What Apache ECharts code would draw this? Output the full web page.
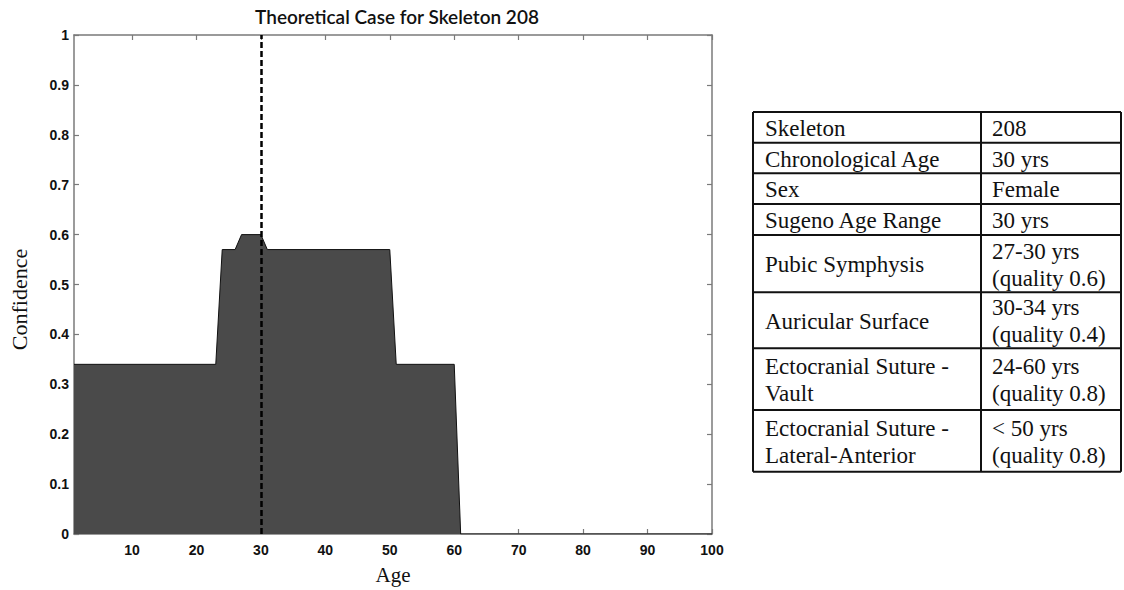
<!DOCTYPE html>
<html>
<head>
<meta charset="utf-8">
<script src="https://cdn.jsdelivr.net/npm/echarts@6/dist/echarts.min.js"></script>
<style>
html,body{margin:0;padding:0;background:#fff;}
#chart{width:1124px;height:590px;}
</style>
</head>
<body>
<div id="chart"></div>
<script>
// ---- data ----
const chartTitle = 'Theoretical Case for Skeleton 208';
const xAxisTitle = 'Age';
const yAxisTitle = 'Confidence';
// breakpoints of the confidence curve (age, confidence)
const ages =       [1,    23,   24,   26,   27,  30,  31,   50,   51,   60,   61, 100];
const confidence = [0.34, 0.34, 0.57, 0.57, 0.6, 0.6, 0.57, 0.57, 0.34, 0.34, 0,  0];
const chronologicalAge = 30;
const xTickValues = [10, 20, 30, 40, 50, 60, 70, 80, 90, 100];
const tableLabels = [
  ['Skeleton'],
  ['Chronological Age'],
  ['Sex'],
  ['Sugeno Age Range'],
  ['Pubic Symphysis'],
  ['Auricular Surface'],
  ['Ectocranial Suture -', 'Vault'],
  ['Ectocranial Suture -', 'Lateral-Anterior']
];
const tableValues = [
  ['208'],
  ['30 yrs'],
  ['Female'],
  ['30 yrs'],
  ['27-30 yrs', '(quality 0.6)'],
  ['30-34 yrs', '(quality 0.4)'],
  ['24-60 yrs', '(quality 0.8)'],
  ['< 50 yrs', '(quality 0.8)']
];

// ---- layout ----
const gridL = 72, gridR = 712, gridT = 35, gridB = 540;
const tableX0 = 753, tableX1 = 981, tableX2 = 1121;
const rowTops = [112, 142.7, 173.3, 204, 235, 292.3, 348.3, 410, 471.7];
const lineH = 27;
const tableFont = '23px "Liberation Serif", "Times New Roman", serif';

const series = ages.map((a, i) => [a, confidence[i]]);

const graphics = [];
// table lines
const lineStyle = {stroke: '#111', lineWidth: 2};
rowTops.forEach(y => {
  graphics.push({type: 'line', shape: {x1: tableX0, y1: y, x2: tableX2, y2: y}, style: lineStyle, silent: true});
});
[tableX0, tableX1, tableX2].forEach(x => {
  graphics.push({type: 'line', shape: {x1: x, y1: rowTops[0], x2: x, y2: rowTops[rowTops.length - 1]}, style: lineStyle, silent: true});
});
function addCell(lines, x, top, bottom) {
  const cy = (top + bottom) / 2 + 1;
  const n = lines.length;
  lines.forEach((t, k) => {
    graphics.push({
      type: 'text', x: x, y: cy + (k - (n - 1) / 2) * lineH, silent: true,
      style: {text: t, font: tableFont, fill: '#111', align: 'left', verticalAlign: 'middle'}
    });
  });
}
tableLabels.forEach((lab, i) => {
  addCell(lab, tableX0 + 12, rowTops[i], rowTops[i + 1]);
  addCell(tableValues[i], tableX1 + 11, rowTops[i], rowTops[i + 1]);
});

const axisLineStyle = {color: '#7a7a7a', width: 1.5};
const tickStyle = {color: '#7a7a7a', width: 1.2};
const labelStyle = {color: '#111', fontFamily: '"Liberation Sans", Arial, sans-serif', fontWeight: 'bold', fontSize: 14};

const chart = echarts.init(document.getElementById('chart'), null, {renderer: 'svg'});
chart.setOption({
  animation: false,
  backgroundColor: '#fff',
  title: {
    text: chartTitle, left: (gridL + gridR) / 2, top: 2, textAlign: 'center',
    textStyle: {fontFamily: 'Lato, "Open Sans", sans-serif', fontWeight: 600, fontSize: 19, color: '#111'}
  },
  grid: {left: gridL, right: 1124 - gridR, top: gridT, bottom: 590 - gridB, containLabel: false},
  xAxis: [{
    type: 'value', min: 1, max: 100, position: 'bottom',
    name: xAxisTitle, nameLocation: 'middle', nameGap: 30,
    nameTextStyle: {fontFamily: '"Liberation Serif", "Times New Roman", serif', fontSize: 21, color: '#111'},
    axisLine: {show: true, onZero: false, lineStyle: axisLineStyle},
    axisTick: {show: true, inside: true, length: 5, lineStyle: tickStyle, customValues: xTickValues},
    axisLabel: Object.assign({margin: 9, customValues: xTickValues}, labelStyle),
    splitLine: {show: false}
  }, {
    type: 'value', min: 1, max: 100, position: 'top',
    axisLine: {show: true, onZero: false, lineStyle: axisLineStyle},
    axisTick: {show: true, inside: true, length: 5, lineStyle: tickStyle, customValues: xTickValues},
    axisLabel: {show: false},
    splitLine: {show: false}
  }],
  yAxis: [{
    type: 'value', min: 0, max: 1, interval: 0.1, position: 'left',
    name: yAxisTitle, nameLocation: 'middle', nameGap: 44, nameRotate: 90,
    nameTextStyle: {fontFamily: '"Liberation Serif", "Times New Roman", serif', fontSize: 22, color: '#111', padding: [0, 30, 0, 0]},
    axisLine: {show: true, onZero: false, lineStyle: axisLineStyle},
    axisTick: {show: true, inside: true, length: 5, lineStyle: tickStyle},
    axisLabel: Object.assign({margin: 5}, labelStyle),
    splitLine: {show: false}
  }, {
    type: 'value', min: 0, max: 1, interval: 0.1, position: 'right',
    axisLine: {show: true, onZero: false, lineStyle: axisLineStyle},
    axisTick: {show: true, inside: true, length: 5, lineStyle: tickStyle},
    axisLabel: {show: false},
    splitLine: {show: false}
  }],
  series: [{
    type: 'line', data: series, symbol: 'none', silent: true,
    lineStyle: {color: '#111', width: 1},
    areaStyle: {color: '#4a4a4a', opacity: 1, origin: 'start'},
    markLine: {
      silent: true, symbol: 'none', label: {show: false},
      lineStyle: {color: '#000', width: 2.5, type: [6, 3]},
      data: [{xAxis: chronologicalAge}]
    },
    z: 2
  }],
  graphic: graphics
});
</script>
</body>
</html>
